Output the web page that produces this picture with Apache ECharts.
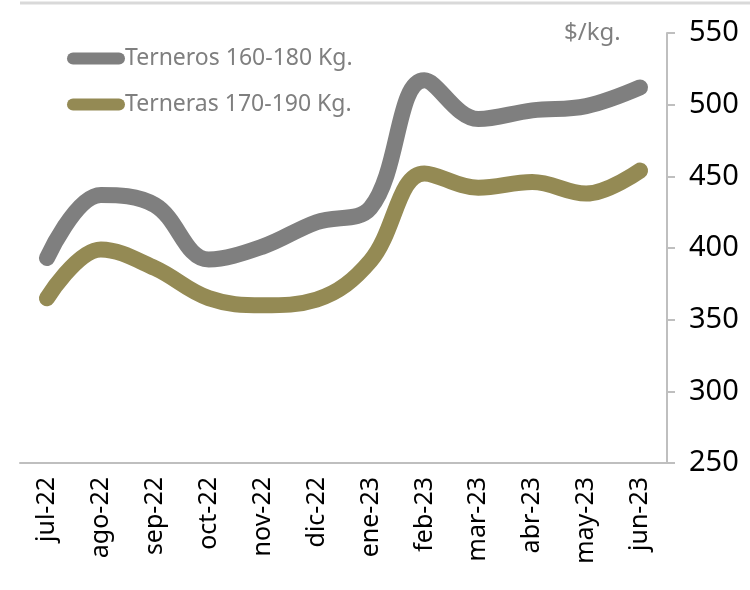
<!DOCTYPE html>
<html>
<head>
<meta charset="utf-8">
<script src="https://cdn.jsdelivr.net/npm/echarts@6/dist/echarts.min.js"></script>
<style>
  html, body { margin: 0; padding: 0; background: #fff; }
  #chart { width: 750px; height: 590px; }
</style>
</head>
<body>
<div id="chart"></div>
<script>
// 数据
const meses = ['jul-22', 'ago-22', 'sep-22', 'oct-22', 'nov-22', 'dic-22',
               'ene-23', 'feb-23', 'mar-23', 'abr-23', 'may-23', 'jun-23'];
const terneros = [393, 437, 430, 392, 401, 418, 428, 517, 490, 496, 499, 512];
const terneras = [365, 399, 386, 365, 360, 364, 391, 452, 442, 446, 438, 454];
const nombres = ['Terneros 160-180 Kg.', 'Terneras 170-190 Kg.'];
const colores = ['#7f7f7f', '#948a54'];

const chart = echarts.init(document.getElementById('chart'));
const capsula = 'path://M6,0 L52,0 A6,6 0 0 1 52,12 L6,12 A6,6 0 0 1 6,0 Z';

chart.setOption({
    animation: false,
    textStyle: { fontFamily: 'Noto Sans, sans-serif' },
    grid: { left: 20, right: 83, top: 33, bottom: 127 },
    legend: {
        orient: 'vertical',
        left: 62, top: 42,
        itemWidth: 58, itemHeight: 12, itemGap: 23,
        icon: capsula,
        textStyle: { color: '#7f7f7f', fontSize: 23, padding: [0, 0, 0, -5] },
        data: nombres
    },
    xAxis: {
        type: 'category',
        data: meses,
        boundaryGap: true,
        axisLine: { lineStyle: { color: '#bfbfbf', width: 2 } },
        axisTick: { length: 10, lineStyle: { color: '#bfbfbf', width: 2 } },
        axisLabel: { rotate: 90, color: '#000', fontSize: 25, margin: 14 }
    },
    yAxis: {
        type: 'value',
        position: 'right',
        min: 250, max: 550, interval: 50,
        splitLine: { show: false },
        axisLine: { show: true, lineStyle: { color: '#bfbfbf', width: 2 } },
        axisTick: { show: true, length: 8, lineStyle: { color: '#bfbfbf', width: 2 } },
        axisLabel: { color: '#000', fontSize: 29, margin: 22 }
    },
    series: [terneros, terneras].map((d, i) => ({
        name: nombres[i],
        type: 'line',
        data: d,
        smooth: 0.38,
        symbol: 'none',
        lineStyle: { width: 16, color: colores[i], cap: 'round', join: 'round' },
        itemStyle: { color: colores[i] }
    })),
    graphic: [
        {
            type: 'line',
            shape: { x1: 20, y1: 3, x2: 750, y2: 3 },
            style: { stroke: '#d9d9d9', lineWidth: 3 }
        },
        {
            type: 'text',
            left: 564, top: 21,
            style: { text: '$/kg.', fill: '#7f7f7f', fontSize: 24, fontFamily: 'Noto Sans, sans-serif' }
        }
    ]
});
</script>
</body>
</html>
